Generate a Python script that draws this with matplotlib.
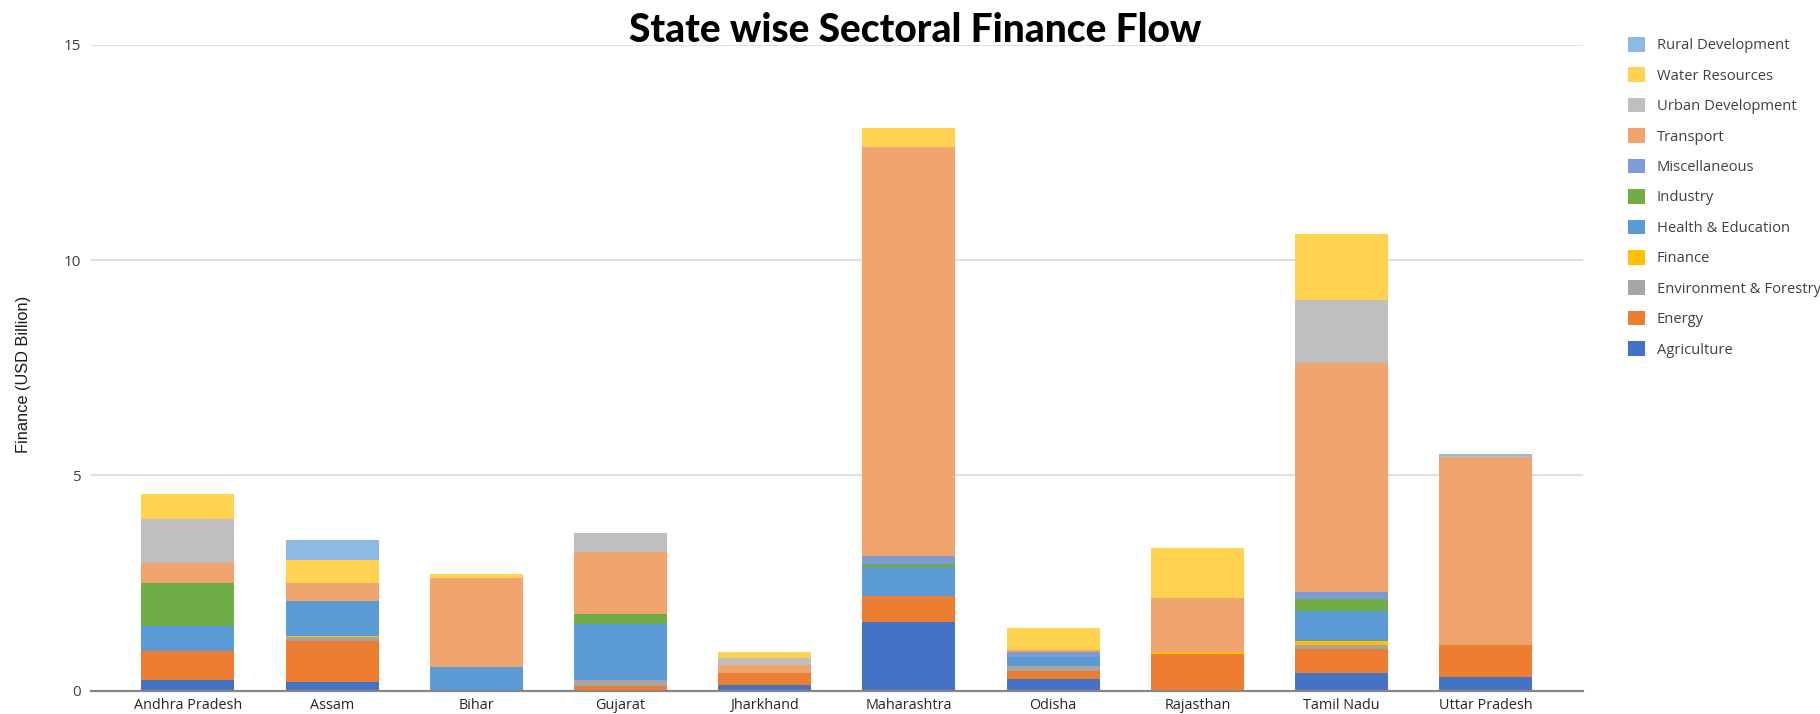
# -*- coding: utf-8 -*-
# State wise sectoral finance flow - stacked bar chart

import numpy as np
import matplotlib.pyplot as plt
from matplotlib.patches import Patch

# data (USD Billion) ===================================================
states = ['Andhra Pradesh', 'Assam', 'Bihar', 'Gujarat', 'Jharkhand',
          'Maharashtra', 'Odisha', 'Rajasthan', 'Tamil Nadu', 'Uttar Pradesh']

agriculture  = [0.25, 0.20, 0.00, 0.00, 0.12, 1.60, 0.27, 0.00, 0.40, 0.31]
energy       = [0.67, 0.95, 0.00, 0.11, 0.28, 0.59, 0.19, 0.85, 0.57, 0.74]
env_forestry = [0.00, 0.09, 0.00, 0.13, 0.00, 0.00, 0.12, 0.00, 0.10, 0.00]
finance      = [0.00, 0.03, 0.00, 0.00, 0.00, 0.00, 0.00, 0.05, 0.09, 0.00]
health_edu   = [0.59, 0.81, 0.54, 1.32, 0.00, 0.68, 0.20, 0.00, 0.68, 0.00]
industry     = [1.00, 0.00, 0.00, 0.23, 0.00, 0.07, 0.00, 0.00, 0.29, 0.00]
misc         = [0.00, 0.00, 0.00, 0.00, 0.00, 0.19, 0.12, 0.00, 0.16, 0.00]
transport    = [0.45, 0.43, 2.07, 1.43, 0.19, 9.51, 0.05, 1.26, 5.33, 4.38]
urban        = [1.03, 0.00, 0.00, 0.45, 0.18, 0.00, 0.00, 0.00, 1.46, 0.03]
water        = [0.58, 0.53, 0.10, 0.00, 0.12, 0.42, 0.50, 1.16, 1.53, 0.00]
rural        = [0.00, 0.45, 0.00, 0.00, 0.00, 0.00, 0.00, 0.00, 0.00, 0.03]

sectors = ['Agriculture', 'Energy', 'Environment & Forestry', 'Finance',
           'Health & Education', 'Industry', 'Miscellaneous', 'Transport',
           'Urban Development', 'Water Resources', 'Rural Development']
series = [agriculture, energy, env_forestry, finance, health_edu, industry,
          misc, transport, urban, water, rural]
colors = ['#4472C4', '#ED7D31', '#A5A5A5', '#FFC000', '#5B9BD5', '#70AD47',
          '#7D9BD6', '#F0A56F', '#BFBFBF', '#FFD24F', '#8DB9E2']

fig = plt.figure(figsize=(18.2, 7.14), dpi=100)
ax = fig.add_axes([0.0498, 0.0327, 0.82, 0.9043])

x = np.arange(len(states))
bottom = np.zeros(len(states))
for vals, color, name in zip(series, colors, sectors):
    ax.bar(x, vals, width=0.645, bottom=bottom, color=color, label=name,
           linewidth=0, zorder=3)
    bottom += np.array(vals)

ax.set_xlim(-0.675, 9.675)
ax.set_ylim(0, 15)
ax.set_yticks([0, 5, 10, 15])
ax.yaxis.grid(True, color='#D9D9D9', linewidth=1.2, zorder=0)
ax.set_axisbelow(True)
for s in ['top', 'right', 'left']:
    ax.spines[s].set_visible(False)
ax.spines['bottom'].set_color('#868686')
ax.spines['bottom'].set_linewidth(1.6)
ax.spines['bottom'].set_zorder(4)

ax.set_xticks(x)
ax.set_xticklabels(states, fontfamily='Open Sans', fontsize=10.4, color='#262626')
ax.tick_params(axis='x', length=0, pad=5)
ax.tick_params(axis='y', length=0, pad=7, labelsize=11, labelcolor='#404040')
for lab in ax.get_yticklabels():
    lab.set_fontfamily('Open Sans')

fig.text(0.0128, 0.475, 'Finance (USD Billion)', rotation=90, ha='center',
         va='center', fontsize=11.8, fontfamily='Liberation Sans', color='#1a1a1a')

fig.text(0.503, 0.957, 'State wise Sectoral Finance Flow', ha='center',
         va='center', fontsize=28, fontfamily='Lato', fontweight='black')

# legend: top layer first
handles = [Patch(facecolor=c, edgecolor='none') for c in colors][::-1]
fig.legend(handles, sectors[::-1], loc='upper left',
           bbox_to_anchor=(1628 / 1820, 1 - 37 / 714), frameon=False,
           borderpad=0, borderaxespad=0, handlelength=1.15, handleheight=1.15,
           handletextpad=0.8, labelspacing=0.96,
           prop={'family': 'Open Sans', 'size': 10.6}, labelcolor='#404040')

plt.savefig('out.png', dpi=100)
